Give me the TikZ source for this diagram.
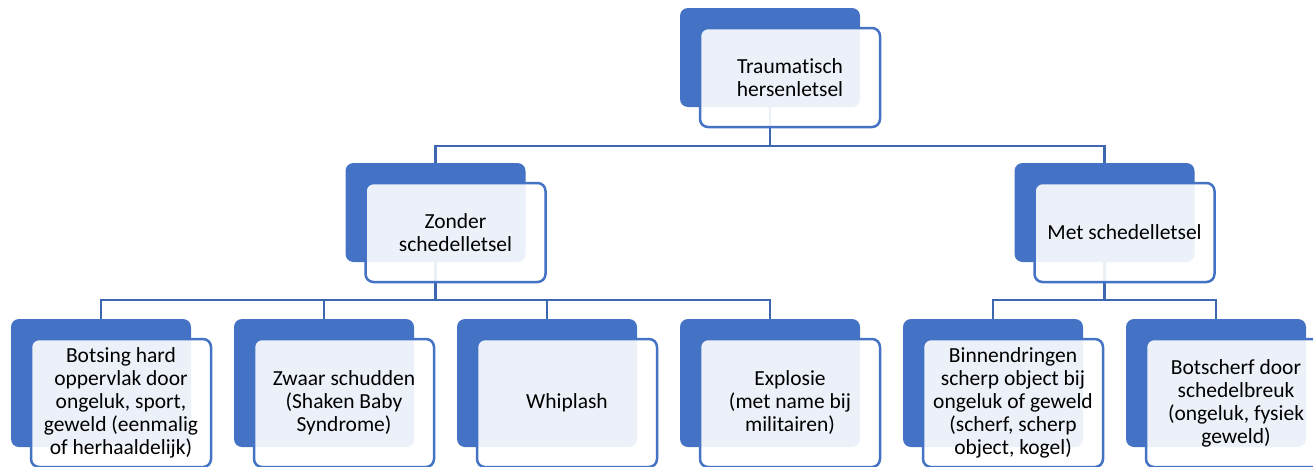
\documentclass[tikz,border=0pt]{standalone}
\usepackage{fontspec}
\setmainfont{Carlito}[Ligatures=NoCommon]
\definecolor{accent}{HTML}{4472C4}
\begin{document}
\begin{tikzpicture}[x=1pt, y=-1pt,
    back/.style={rectangle, rounded corners=8pt, fill=accent, minimum width=180pt, minimum height=99pt, inner sep=0pt},
    front/.style={rectangle, rounded corners=8pt, draw=accent, line width=2.5pt, fill=white, fill opacity=0.9, text opacity=1, minimum width=180pt, minimum height=99pt, inner sep=0pt, align=center, font=\fontsize{21.5}{23}\selectfont},
    tall/.style={minimum height=128pt},
    link/.style={draw=accent!90!black, line width=2.5pt}]
    \useasboundingbox (0,0) rectangle (1313,466);
    \clip (0,0) rectangle (1313,466);

    % back boxes
    \node[back] (tb) at (770,57.5) {};
    \node[back] (zb) at (435.5,212.5) {};
    \node[back] (mb) at (1104.5,212.5) {};
    \node[back, tall] (b1b) at (101,383) {};
    \node[back, tall] (b2b) at (324,383) {};
    \node[back, tall] (b3b) at (547,383) {};
    \node[back, tall] (b4b) at (770,383) {};
    \node[back, tall] (b5b) at (993,383) {};
    \node[back, tall] (b6b) at (1216,383) {};

    % connectors
    \draw[link] (tb.south) -- ++(0,39) -| (zb.north);
    \draw[link] (tb.south) -- ++(0,39) -| (mb.north);
    \draw[link] (zb.south) -- ++(0,38) -| (b1b.north);
    \draw[link] (zb.south) -- ++(0,38) -| (b2b.north);
    \draw[link] (zb.south) -- ++(0,38) -| (b3b.north);
    \draw[link] (zb.south) -- ++(0,38) -| (b4b.north);
    \draw[link] (mb.south) -- ++(0,38) -| (b5b.north);
    \draw[link] (mb.south) -- ++(0,38) -| (b6b.north);

    % front boxes
    \node[front] (t) at (790,77.5) {Traumatisch\\hersenletsel};
    \node[front] (z) at (455.5,232.5) {Zonder\\schedelletsel};
    \node[front] (m) at (1124.5,232.5) {Met schedelletsel};
    \node[front, tall] (b1) at (121,403) {Botsing hard\\oppervlak door\\ongeluk, sport,\\geweld (eenmalig\\of herhaaldelijk)};
    \node[front, tall] (b2) at (344,403) {Zwaar schudden\\(Shaken Baby\\Syndrome)};
    \node[front, tall] (b3) at (567,403) {Whiplash};
    \node[front, tall] (b4) at (790,403) {Explosie\\(met name bij\\militairen)};
    \node[front, tall] (b5) at (1013,403) {Binnendringen\\scherp object bij\\ongeluk of geweld\\(scherf, scherp\\object, kogel)};
    \node[front, tall] (b6) at (1236,403) {Botscherf door\\schedelbreuk\\(ongeluk, fysiek\\geweld)};
\end{tikzpicture}
\end{document}
